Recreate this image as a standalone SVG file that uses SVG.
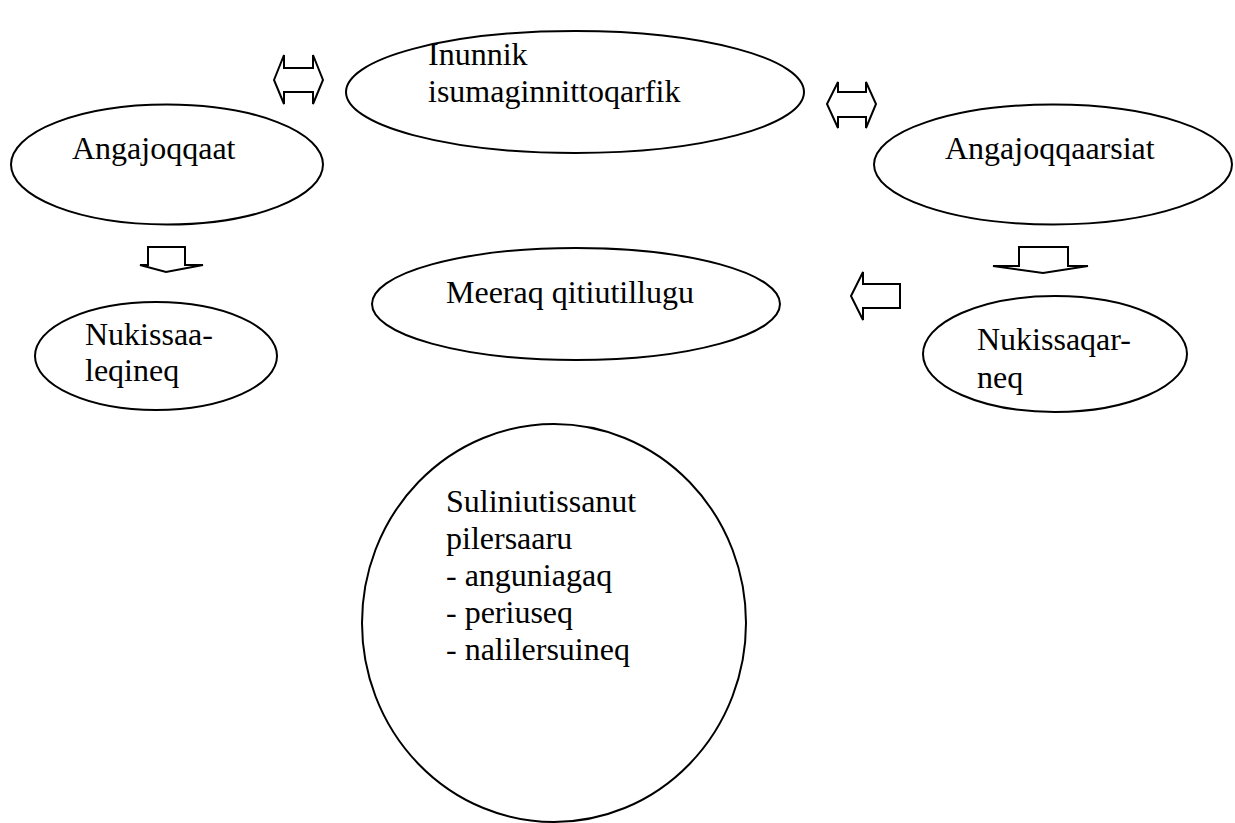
<svg xmlns="http://www.w3.org/2000/svg" width="1235" height="823" viewBox="0 0 1235 823">
<style>
.n{fill:#fff;stroke:#000;stroke-width:2}
.a{fill:#fff;stroke:#000;stroke-width:2;stroke-linejoin:miter}
text{font-family:"Liberation Serif",Tinos,"Times New Roman","Noto Serif","DejaVu Serif",serif;font-size:32px;fill:#000}
</style>
<rect width="1235" height="823" fill="#fff"/>
<g id="n1"><ellipse class="n" cx="575" cy="92" rx="229" ry="61"/><text x="428" y="65">Inunnik</text><text x="428" y="102">isumaginnittoqarfik</text></g>
<g id="n2"><ellipse class="n" cx="167" cy="164.5" rx="156" ry="60"/><text x="72" y="159">Angajoqqaat</text></g>
<g id="n3"><ellipse class="n" cx="1053" cy="164.5" rx="179" ry="60"/><text x="945" y="159">Angajoqqaarsiat</text></g>
<g id="n4"><ellipse class="n" cx="576" cy="304" rx="204" ry="56"/><text x="446" y="303">Meeraq qitiutillugu</text></g>
<g id="n5"><ellipse class="n" cx="156" cy="356" rx="121" ry="54"/><text x="85" y="345">Nukissaa-</text><text x="85" y="381">leqineq</text></g>
<g id="n6"><ellipse class="n" cx="1055" cy="354" rx="132" ry="58"/><text x="977" y="350">Nukissaqar-</text><text x="977" y="388">neq</text></g>
<g id="n7"><ellipse class="n" cx="554" cy="623" rx="192" ry="199"/><text x="446" y="512">Suliniutissanut</text><text x="446" y="549">pilersaaru</text><text x="446" y="586">- anguniagaq</text><text x="446" y="623">- periuseq</text><text x="446" y="660">- nalilersuineq</text></g>
<g id="connectors">
<path class="a" d="M274,80 L284,55 L284,68 L313,68 L313,55 L323,80 L313,104 L313,92 L284,92 L284,104 Z"/>
<path class="a" d="M827,104 L838,82 L838,92 L866,92 L866,82 L876,104 L866,128 L866,117 L838,117 L838,128 Z"/>
<path class="a" d="M148,247 L185,247 L185,265 L203,265 L166,272 L140,265 L148,265 Z"/>
<path class="a" d="M1019,247 L1068,247 L1068,266 L1088,266 L1043,273 L993,266 L1019,266 Z"/>
<path class="a" d="M851,296 L863,272 L863,284 L900,284 L900,308 L863,308 L863,320 Z"/>
</g>
</svg>
